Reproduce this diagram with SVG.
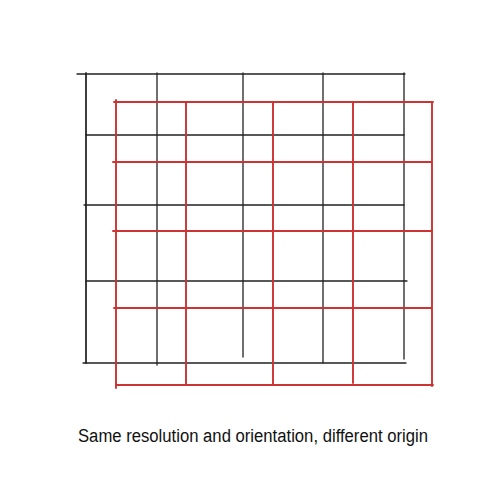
<svg xmlns="http://www.w3.org/2000/svg" width="500" height="500" viewBox="0 0 500 500">
<style>
.blk{stroke:#222;stroke-width:1.3;stroke-linecap:round;fill:none}
.red{stroke:#cc3333;stroke-width:1.9;stroke-linecap:round;fill:none}
.lbl{font-family:"Liberation Sans",Arial,sans-serif;font-size:18px;fill:#111}
</style>
<rect width="500" height="500" fill="#fff"/>
<g id="black-grid">
<path class="blk" d="M86 73V363M157 73V365M243 73V357M323 73V363M404 73V359"/>
<path class="blk" d="M77 74H405M86 135H404M84 205H404M86 281H407M83 363H406"/>
<path class="blk" stroke-width="2" d="M86 73V363"/>
</g>
<g id="red-grid">
<path class="red" d="M116 100V388M186 102V385M273 102V385M353 102V383M432 102V386"/>
<path class="red" d="M114 102H433M113 162H431M113 231H432M114 308H431M116 385H433"/>
</g>
<text class="lbl" x="253" y="442" text-anchor="middle" textLength="350" lengthAdjust="spacingAndGlyphs">Same resolution and orientation, different origin</text>
</svg>
